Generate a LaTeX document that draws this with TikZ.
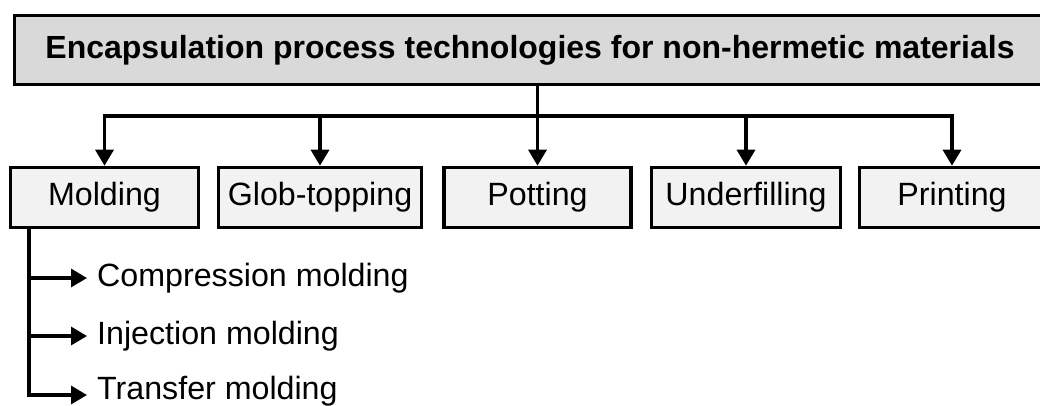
\documentclass[tikz,border=0pt]{standalone}
\usepackage{fontspec}
\setmainfont{Liberation Sans}
\usetikzlibrary{arrows.meta}
\definecolor{titlegray}{HTML}{D9D9D9}
\definecolor{boxgray}{HTML}{F2F2F2}
\tikzset{
  conn/.style={line width=3.3pt},
  arr/.style={line width=3.3pt, -{Triangle[length=16pt,width=18pt]}},
  titlebox/.style={draw, line width=3.6pt, fill=titlegray, inner sep=0pt,
    font=\fontsize{32}{36}\selectfont\bfseries},
  techbox/.style={draw, line width=3.6pt, fill=boxgray, inner sep=0pt,
    minimum height=60pt, font=\fontsize{32.2}{36}\selectfont},
  subtext/.style={inner sep=0pt, anchor=west, font=\fontsize{32.2}{36}\selectfont}
}
\begin{document}
\begin{tikzpicture}[x=1pt,y=-1pt]
\clip (0,0) rectangle (1040,405);
\fill[white] (0,0) rectangle (1040,405);
\node[titlebox, minimum width=1031pt, minimum height=69pt] (title) at (530,50)
  {Encapsulation process technologies for non-hermetic materials};
\node[techbox, minimum width=188pt] (mol) at (104.5,197.5) {Molding};
\node[techbox, minimum width=203pt] (glob) at (320,197.5) {Glob-topping};
\node[techbox, minimum width=187pt] (pot) at (537.5,197.5) {Potting};
\node[techbox, minimum width=189pt] (und) at (746,197.5) {Underfilling};
\node[techbox, minimum width=185pt] (pri) at (952,197.5) {Printing};
\coordinate (bar) at (0,116);
\draw[conn] (title.south -| pot) -- (bar -| pot);
\draw[conn, line cap=rect] (bar -| mol) -- (bar -| pri);
\foreach \n in {mol,glob,pot,und,pri}
  \draw[arr] (bar -| \n) -- (\n.north);
\node[subtext] (comp) at (97,278) {Compression molding};
\node[subtext] (inj) at (97,336) {Injection molding};
\node[subtext] (tran) at (97,391) {Transfer molding};
\coordinate (mb) at ([xshift=-75.5pt]mol.south);
\draw[arr] (mb) |- ([xshift=-10pt,yshift=-4pt]tran.west);
\draw[arr] (mb |- comp.west) -- ([xshift=-10pt]comp.west);
\draw[arr] (mb |- inj.west) -- ([xshift=-10pt]inj.west);
\end{tikzpicture}
\end{document}
